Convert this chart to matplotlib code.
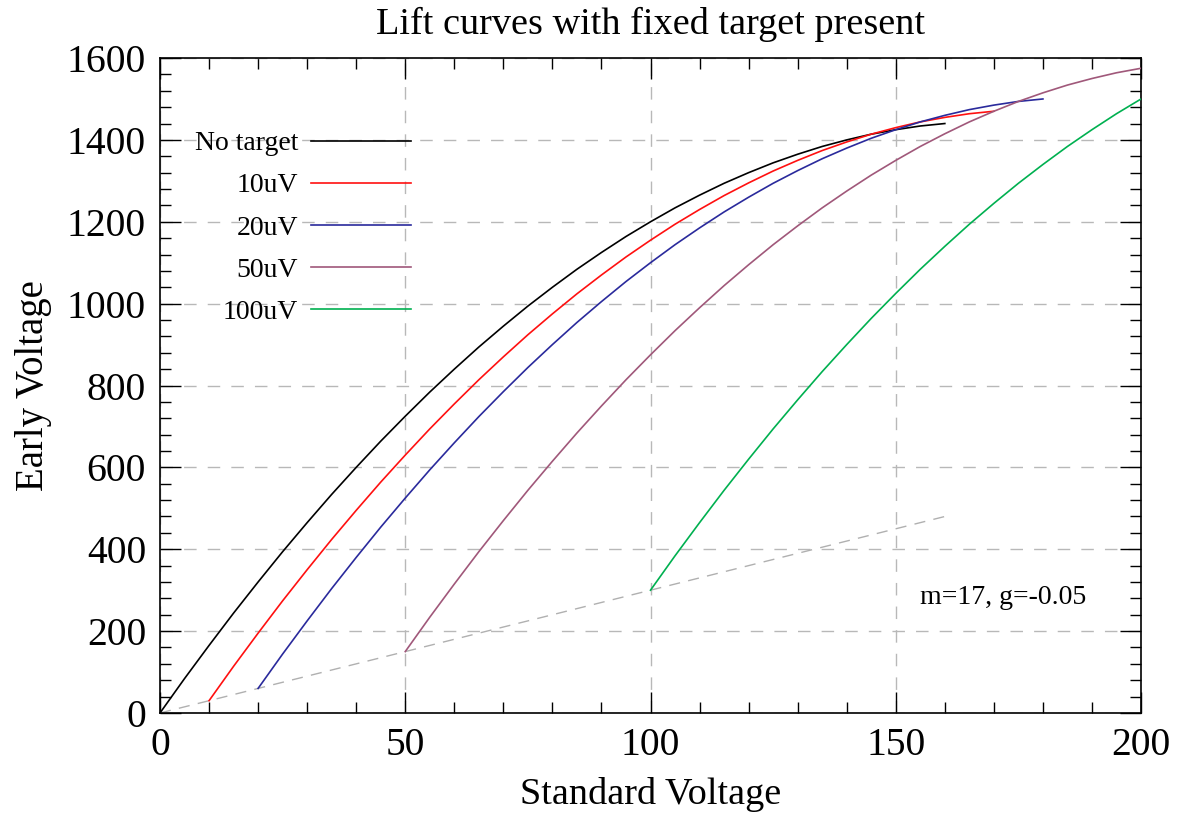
#!/usr/bin/env python3
"""Lift curves with fixed target present."""
import matplotlib as mpl
import matplotlib.pyplot as plt
from matplotlib.ticker import MultipleLocator

mpl.rcParams.update({
    'font.family': 'serif', 'font.serif': ['Liberation Serif', 'DejaVu Serif'],
    'xtick.direction': 'in', 'ytick.direction': 'in',
    'xtick.top': True, 'ytick.right': True,
})

# values (Standard Voltage -> Early Voltage), every 5 V
x_none = [0, 5, 10, 15, 20, 25, 30, 35, 40, 45, 50, 55, 60, 65, 70, 75, 80,
          85, 90, 95, 100, 105, 110, 115, 120, 125, 130, 135, 140, 145, 150, 155, 160]
y_none = [0, 84, 165, 244, 320, 394, 465, 534, 600, 664, 725, 784, 840, 894, 945, 994, 1040,
          1084, 1125, 1164, 1200, 1234, 1265, 1294, 1320, 1344, 1365, 1384, 1400, 1414, 1425, 1434, 1440]
x_10 = [10, 15, 20, 25, 30, 35, 40, 45, 50, 55, 60, 65, 70, 75, 80, 85, 90,
        95, 100, 105, 110, 115, 120, 125, 130, 135, 140, 145, 150, 155, 160, 165, 170]
y_10 = [30, 114, 195, 274, 350, 424, 495, 564, 630, 694, 755, 814, 870, 924, 975, 1024, 1070,
        1114, 1155, 1194, 1230, 1264, 1295, 1324, 1350, 1374, 1395, 1414, 1430, 1444, 1455, 1464, 1470]
x_20 = [20, 25, 30, 35, 40, 45, 50, 55, 60, 65, 70, 75, 80, 85, 90, 95, 100,
        105, 110, 115, 120, 125, 130, 135, 140, 145, 150, 155, 160, 165, 170, 175, 180]
y_20 = [60, 144, 225, 304, 380, 454, 525, 594, 660, 724, 785, 844, 900, 954, 1005, 1054, 1100,
        1144, 1185, 1224, 1260, 1294, 1325, 1354, 1380, 1404, 1425, 1444, 1460, 1474, 1485, 1494, 1500]
x_50 = [50, 55, 60, 65, 70, 75, 80, 85, 90, 95, 100, 105, 110, 115, 120, 125,
        130, 135, 140, 145, 150, 155, 160, 165, 170, 175, 180, 185, 190, 195, 200]
y_50 = [150, 234, 315, 394, 470, 544, 615, 684, 750, 814, 875, 934, 990, 1044, 1095, 1144,
        1190, 1234, 1275, 1314, 1350, 1384, 1415, 1444, 1470, 1494, 1515, 1534, 1550, 1564, 1575]
x_100 = [100, 105, 110, 115, 120, 125, 130, 135, 140, 145, 150,
         155, 160, 165, 170, 175, 180, 185, 190, 195, 200]
y_100 = [300, 384, 465, 544, 620, 694, 765, 834, 900, 964, 1025,
         1084, 1140, 1194, 1245, 1294, 1340, 1384, 1425, 1464, 1500]
x_start = [0, 160]
y_start = [0, 480]

series = [
    ('No target', x_none, y_none, '#000000'),
    ('10uV', x_10, y_10, '#FF1010'),
    ('20uV', x_20, y_20, '#2A2A9C'),
    ('50uV', x_50, y_50, '#A0587A'),
    ('100uV', x_100, y_100, '#00B050'),
]

fig = plt.figure(figsize=(11.79, 8.14), dpi=100)
ax = fig.add_axes([0.1357, 0.1241, 0.9678 - 0.1357, 0.9287 - 0.1241])

ax.plot(x_start, y_start, color='#b0b0b0', lw=1.0, dashes=(8, 6), zorder=2)
for name, xs, ys, c in series:
    ax.plot(xs, ys, color=c, lw=1.2, label=name, zorder=3)

ax.set_xlim(0, 200)
ax.set_ylim(0, 1600)
ax.xaxis.set_major_locator(MultipleLocator(50))
ax.xaxis.set_minor_locator(MultipleLocator(10))
ax.yaxis.set_major_locator(MultipleLocator(200))
ax.yaxis.set_minor_locator(MultipleLocator(40))
ax.tick_params(which='major', length=15, width=1.0, labelsize=28.5, pad=10)
ax.tick_params(which='minor', length=8, width=1.0)
ax.grid(True, which='major', color='#b8b8b8', lw=1.0, dashes=(9, 8))
for sp in ax.spines.values():
    sp.set_linewidth(1.2)

ax.set_xlabel('Standard Voltage', fontsize=27.5)
ax.xaxis.set_label_coords(0.5, -0.097)
ax.set_ylabel('Early Voltage', fontsize=28)
ax.yaxis.set_label_coords(-0.110, 0.5)
ax.set_title('Lift curves with fixed target present', fontsize=27.5, pad=17)

leg = ax.legend(loc='upper left', bbox_to_anchor=(0.010, 0.927), frameon=False,
                markerfirst=False, fontsize=20, handlelength=3.6, handletextpad=0.45,
                labelspacing=0.6)
for t in leg.get_texts():
    t.set_ha('right')
leg._legend_box.align = 'right'

ax.text(0.775, 0.177, 'm=17, g=-0.05', transform=ax.transAxes, fontsize=20, va='center')

fig.savefig('out.png', dpi=100)
